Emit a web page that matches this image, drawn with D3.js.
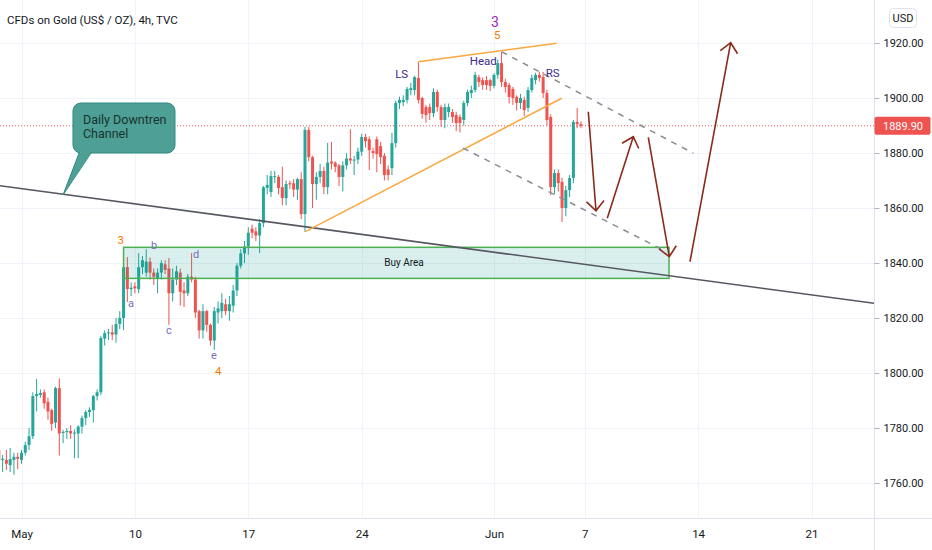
<!DOCTYPE html>
<html>
<head>
<meta charset="utf-8">
<script src="https://cdn.jsdelivr.net/npm/d3@7"></script>
<style>
  body { margin: 0; background: #fff; }
  svg { display: block; font-family: Roboto, "Open Sans", sans-serif; }
</style>
</head>
<body>
<svg id="chart" width="932" height="550"></svg>
<script>
// Gold 4h bars, Apr 30 -> Jun 4 2021 (May 31 is a short session, 5 bars)
var open = [
  1772, 1768.4, 1768.4, 1766.5, 1768.4, 1769.5,
  1768.4, 1771, 1773.8, 1777, 1791.6, 1792,
  1793, 1789.5, 1786.5, 1782, 1794.5, 1778.2,
  1778.5, 1778.9, 1778, 1778, 1780.5, 1783.6,
  1785.8, 1786.5, 1791.6, 1793, 1812.5, 1814.5,
  1814.8, 1814, 1817.8, 1820, 1838.5, 1830.5,
  1831.5, 1830.5, 1838.5, 1836.5, 1840.5, 1836.5,
  1834.5, 1836.5, 1839.5, 1838, 1829, 1834,
  1836.5, 1830, 1829, 1835, 1834, 1822.5,
  1815.5, 1822.5, 1817.5, 1811.8, 1822, 1822.5,
  1825, 1822.5, 1824.5, 1830, 1839, 1843.5,
  1846, 1852.5, 1851.5, 1850, 1854.5, 1867.3,
  1865.8, 1871.3, 1871.3, 1867.6, 1863.6, 1869,
  1869, 1866.7, 1870.5, 1857.8, 1888.4, 1878.5,
  1868.7, 1871.3, 1873.5, 1867.6, 1876.9, 1876.5,
  1875.5, 1871.3, 1875.5, 1878, 1877.3, 1877.6,
  1880.5, 1885.8, 1885, 1880.7, 1885, 1882.5,
  1879, 1874, 1874.5, 1883.6, 1898.2, 1898.5,
  1899.3, 1902.9, 1902.9, 1907.3, 1900, 1896.7,
  1896.7, 1894.5, 1902.2, 1896.7, 1892, 1894.9,
  1894.9, 1893.8, 1893.1, 1892, 1898.2, 1901.8,
  1902.9, 1907.6, 1906.5, 1906.5, 1906.5,
  1904.4, 1908.4, 1912.7, 1905.8, 1904.7, 1903.3,
  1900.4, 1898.2, 1899.3, 1896.4, 1902.9, 1906.5,
  1908.4, 1907.6, 1901.8, 1893.1, 1867.6, 1872.7,
  1869.5, 1860, 1866.5, 1870.9, 1891.3, 1890.5
];
var high = [
  1774, 1770.2, 1772, 1772.7, 1771, 1771,
  1772, 1775, 1780, 1793, 1797.8, 1794,
  1794, 1791, 1787, 1795, 1798, 1779.3,
  1780, 1781, 1779.5, 1781, 1784.5, 1786.5,
  1787.5, 1792, 1794, 1813.5, 1815.5, 1816,
  1817.5, 1820, 1822.5, 1840, 1842.2, 1833,
  1833, 1843.6, 1842.5, 1845, 1842, 1838,
  1838, 1841, 1841, 1841.8, 1838, 1839,
  1838, 1833, 1836, 1843.6, 1835, 1823,
  1825, 1823, 1818, 1824, 1826, 1829,
  1827, 1828, 1832, 1840, 1845, 1848,
  1853, 1854, 1853, 1856, 1868, 1872,
  1873.5, 1873.5, 1872, 1875, 1870, 1870,
  1870.5, 1871, 1873, 1889.5, 1889.5, 1879,
  1873, 1876, 1875, 1883.7, 1884, 1877,
  1876, 1877, 1880, 1888.7, 1879, 1882,
  1887, 1887, 1886, 1882, 1886, 1884,
  1880, 1875.5, 1887.3, 1899, 1900.5, 1901,
  1904, 1905.5, 1908, 1913.1, 1900.5, 1897.5,
  1898, 1903.5, 1903, 1897.5, 1898, 1898,
  1896, 1895, 1894, 1899, 1903, 1904.5,
  1909.5, 1908.5, 1907.5, 1908, 1907,
  1909, 1914, 1916.7, 1907, 1905.5, 1904,
  1901, 1901.5, 1900.5, 1904, 1908.5, 1909.2,
  1909.5, 1909.5, 1903, 1894, 1874, 1874,
  1871, 1868, 1872, 1892, 1896.4, 1891.5
];
var low = [
  1767, 1764, 1764.7, 1764, 1763, 1765,
  1767, 1770, 1772, 1776, 1786, 1791,
  1787, 1783, 1779, 1780, 1770, 1774.5,
  1776, 1776, 1769, 1769, 1778, 1781,
  1784, 1782, 1790, 1792, 1810, 1812,
  1812, 1811, 1816, 1815.6, 1825.8, 1828,
  1829, 1829, 1836, 1835, 1834, 1832,
  1829, 1834, 1836, 1817.5, 1826, 1832,
  1824.5, 1824, 1828, 1833, 1820, 1812.5,
  1812.5, 1815, 1810, 1808.4, 1818, 1820,
  1821, 1819, 1822, 1828, 1838, 1840,
  1843, 1849, 1848, 1843.6, 1853, 1865,
  1864, 1869, 1865, 1861, 1861, 1867,
  1864, 1863, 1856, 1851.3, 1877, 1860,
  1863, 1869, 1865, 1865, 1874, 1873,
  1868, 1866, 1874, 1876, 1872, 1876,
  1879, 1882, 1873.8, 1878, 1873, 1876,
  1870, 1870, 1872, 1882, 1896, 1897,
  1898, 1901, 1901, 1898, 1892.5, 1891,
  1892, 1893, 1895, 1889.5, 1889, 1893,
  1891, 1888, 1887.5, 1890, 1897, 1900,
  1902, 1904, 1903, 1903, 1902.5,
  1903.5, 1907, 1904, 1902, 1898, 1897.5,
  1895.5, 1896, 1893.5, 1895, 1902, 1905,
  1906, 1900, 1890, 1864.7, 1865, 1866,
  1854.9, 1857, 1864, 1869, 1889, 1889
];
var close = [
  1768.4, 1768.8, 1767, 1768.7, 1769.5, 1768.8,
  1771, 1773.8, 1777, 1791.6, 1792.4, 1792.7,
  1789, 1786, 1781.5, 1794.5, 1778, 1778.6,
  1778.9, 1778, 1778.3, 1780.5, 1783.6, 1785.8,
  1786.6, 1791.6, 1793, 1812.7, 1814.5, 1814.8,
  1814, 1817.8, 1820, 1838.5, 1830.5, 1831,
  1830.8, 1838.5, 1841, 1840.5, 1836.5, 1835,
  1836.5, 1840, 1837.5, 1829, 1834, 1837,
  1829.5, 1829, 1835, 1834, 1822, 1815.5,
  1822.5, 1817.5, 1811.8, 1822.5, 1823.5, 1825.5,
  1822.5, 1825, 1830, 1839, 1843.5, 1846,
  1851, 1851, 1850, 1854.5, 1867.5, 1868.4,
  1871.6, 1871.6, 1867.3, 1863.6, 1868.7, 1868.6,
  1866.7, 1870.5, 1857.8, 1888.4, 1878.5, 1868.7,
  1871.3, 1873.5, 1867.6, 1876.5, 1876.2, 1875,
  1871.3, 1875.5, 1878, 1877.3, 1877.6, 1880.5,
  1885.8, 1884.3, 1881, 1880, 1879.6, 1878.5,
  1872, 1872, 1883.6, 1898.2, 1899.3, 1899.3,
  1903.3, 1903.6, 1907.6, 1899.3, 1894.2, 1893.8,
  1894.5, 1902.2, 1896.7, 1892, 1896.7, 1896.7,
  1893.1, 1890.9, 1890.9, 1898.2, 1902.2, 1902.9,
  1908.4, 1905.8, 1904.7, 1904.7, 1904.4,
  1908.4, 1912.7, 1905.8, 1904, 1900.4, 1900,
  1898.2, 1900, 1895.6, 1902.9, 1907.3, 1908.4,
  1907.3, 1901.8, 1892, 1867.6, 1872.7, 1869.1,
  1860, 1866.5, 1870.9, 1891.3, 1890.5, 1889.9
];
var lastPrice = 1889.90;

var priceTicks = [1760, 1780, 1800, 1820, 1840, 1860, 1880, 1900, 1920];
var dateLabels = ["May", "10", "17", "24", "Jun", "7", "14", "21"];
var dateBars = [6, 36, 66, 96, 131, 155, 185, 215];   // bar index of each label's session

// drawings, as [bar index, price]
var trendLine = [[0.31, 1868.1], [231.53, 1825.35]];
var buyArea = [[33, 1845.7], [177.3, 1834.4]];
var wedgeTop = [[110.97, 1913.2], [147.58, 1919.9]];
var wedgeBottom = [[81.08, 1851.4], [148.91, 1899.9]];
var channelTop = [[133.0, 1916.84], [183.73, 1879.9]];
var channelBottom = [[122.8, 1881.8], [176.2, 1844.4]];
var arrows = [
  [[155.95, 1895.0], [157.98, 1859.0]],
  [[160.97, 1856.26], [167.85, 1885.93]],
  [[171.82, 1885.71], [177.38, 1842.29]],
  [[182.85, 1840.47], [193.62, 1920.11]]
];
var calloutTip = [16.98, 1864.73];
var calloutBox = [[19.62, 1898.18], [46.61, 1880.0]];
var calloutBase = [21.3, 24.5];
var calloutLines = ["Daily Downtren", "Channel"];
var buyLabel = [107.2, 1840.05];

var waveText = ["3", "a", "b", "c", "d", "e", "4", "3", "5", "LS", "Head", "RS"];
var waveBar = [32.24, 34.97, 41.05, 45.02, 52.16, 56.93, 58.06, 131.26, 131.87, 106.58, 128.17, 146.53];
var wavePrice = [1848.36, 1825.5, 1846.5, 1815.6, 1843.3, 1806.5, 1800.85, 1927.75, 1922.9, 1908.73, 1913.56, 1909.2];
var waveKind = ["minor", "sub", "sub", "sub", "sub", "sub", "minor", "major", "minor", "pattern", "pattern", "pattern"];

var kindStyle = {
  minor:   { color: "#f57c00", size: 11.5 },
  sub:     { color: "#7e6bc4", size: 11 },
  major:   { color: "#9c27b0", size: 14 },
  pattern: { color: "#3a2c8c", size: 11.5 }
};

var plotW = 874, plotH = 518;
var up = "#26a69a", down = "#ef5350";

var x = d3.scaleLinear().domain([0.312, 231.53]).range([0, plotW]);
var y = d3.scaleLinear().domain([1747.27, 1935.64]).range([plotH, 0]);

var svg = d3.select("#chart");
svg.append("defs").append("clipPath").attr("id", "plot")
  .append("rect").attr("width", plotW).attr("height", plotH);

// grid
var grid = svg.append("g").attr("stroke", "#f0f3fa").attr("stroke-width", 1);
grid.selectAll(".h").data(priceTicks).enter().append("line")
  .attr("x1", 0).attr("x2", plotW)
  .attr("y1", function(d) { return Math.round(y(d)) + 0.5; })
  .attr("y2", function(d) { return Math.round(y(d)) + 0.5; });
grid.selectAll(".v").data(dateBars).enter().append("line")
  .attr("y1", 0).attr("y2", plotH)
  .attr("x1", function(d) { return Math.round(x(d)) + 0.5; })
  .attr("x2", function(d) { return Math.round(x(d)) + 0.5; });

var plot = svg.append("g").attr("clip-path", "url(#plot)");

// last price line
plot.append("line")
  .attr("x1", 0).attr("x2", plotW)
  .attr("y1", y(lastPrice)).attr("y2", y(lastPrice))
  .attr("stroke", down).attr("stroke-width", 1).attr("stroke-dasharray", "1,2");

// candles
var bars = d3.range(open.length);
var candle = plot.append("g").selectAll("g").data(bars).enter().append("g")
  .attr("fill", function(i) { return close[i] >= open[i] ? up : down; })
  .attr("stroke", function(i) { return close[i] >= open[i] ? up : down; });
candle.append("line")
  .attr("x1", function(i) { return x(i); }).attr("x2", function(i) { return x(i); })
  .attr("y1", function(i) { return y(high[i]); }).attr("y2", function(i) { return y(low[i]); })
  .attr("stroke-width", 1);
candle.append("rect")
  .attr("stroke", "none")
  .attr("x", function(i) { return x(i) - 1.5; })
  .attr("width", 3)
  .attr("y", function(i) { return y(Math.max(open[i], close[i])); })
  .attr("height", function(i) { return Math.max(1, Math.abs(y(open[i]) - y(close[i]))); });

// buy area
plot.append("rect")
  .attr("x", x(buyArea[0][0])).attr("y", y(buyArea[0][1]))
  .attr("width", x(buyArea[1][0]) - x(buyArea[0][0]))
  .attr("height", y(buyArea[1][1]) - y(buyArea[0][1]))
  .attr("fill", "rgba(0,150,136,0.15)").attr("stroke", "#4caf50").attr("stroke-width", 1.5);
plot.append("text")
  .attr("x", x(buyLabel[0])).attr("y", y(buyLabel[1]))
  .attr("dy", "0.35em")
  .attr("text-anchor", "middle").attr("font-size", 10).attr("fill", "#131722")
  .text("Buy Area");

function seg(pts, color, width, dash) {
  plot.append("line")
    .attr("x1", x(pts[0][0])).attr("y1", y(pts[0][1]))
    .attr("x2", x(pts[1][0])).attr("y2", y(pts[1][1]))
    .attr("stroke", color).attr("stroke-width", width)
    .attr("stroke-dasharray", dash || null);
}

seg(trendLine, "#555861", 1.6);
seg(wedgeTop, "#f9a73e", 1.5);
seg(wedgeBottom, "#f9a73e", 1.5);
seg(channelTop, "#8a8c93", 1.5, "6,6");
seg(channelBottom, "#8a8c93", 1.5, "6,6");

// arrows
arrows.forEach(function(a) {
  var x1 = x(a[0][0]), y1 = y(a[0][1]), x2 = x(a[1][0]), y2 = y(a[1][1]);
  var ang = Math.atan2(y1 - y2, x1 - x2), len = 13, spread = 0.74;
  var p = d3.path();
  p.moveTo(x1, y1); p.lineTo(x2, y2);
  p.moveTo(x2 + len * Math.cos(ang + spread), y2 + len * Math.sin(ang + spread));
  p.lineTo(x2, y2);
  p.lineTo(x2 + len * Math.cos(ang - spread), y2 + len * Math.sin(ang - spread));
  plot.append("path").attr("d", p.toString())
    .attr("fill", "none").attr("stroke", "#8b2a1c").attr("stroke-width", 1.6)
    .attr("stroke-linejoin", "miter");
});

// callout
var bx0 = x(calloutBox[0][0]), by0 = y(calloutBox[0][1]);
var bx1 = x(calloutBox[1][0]), by1 = y(calloutBox[1][1]);
var tx = x(calloutTip[0]), ty = y(calloutTip[1]);
var cFill = "#4e9f95", cLine = "#2f8c81";
plot.append("rect")
  .attr("x", bx0).attr("y", by0).attr("width", bx1 - bx0).attr("height", by1 - by0)
  .attr("rx", 8).attr("fill", cFill).attr("stroke", cLine).attr("stroke-width", 1);
var b0 = x(calloutBase[0]), b1 = x(calloutBase[1]);
plot.append("path")
  .attr("d", "M" + b0 + "," + (by1 - 1) + "L" + tx + "," + ty + "L" + b1 + "," + (by1 - 1) + "Z")
  .attr("fill", cFill);
plot.append("path")
  .attr("d", "M" + b0 + "," + (by1 - 0.5) + "L" + tx + "," + ty + "L" + b1 + "," + (by1 - 0.5))
  .attr("fill", "none").attr("stroke", cLine).attr("stroke-width", 1);
plot.append("g").selectAll("text").data(calloutLines).enter().append("text")
  .attr("x", bx0 + 10).attr("y", function(d, k) { return by0 + 21 + k * 14; })
  .attr("font-size", 12.5).attr("fill", "#18332f")
  .text(function(d) { return d; });

// wave / pattern labels
plot.append("g").selectAll("text").data(waveText).enter().append("text")
  .attr("x", function(d, k) { return x(waveBar[k]); })
  .attr("y", function(d, k) { return y(wavePrice[k]); })
  .attr("dy", "0.35em")
  .attr("text-anchor", "middle")
  .attr("font-size", function(d, k) { return kindStyle[waveKind[k]].size; })
  .attr("fill", function(d, k) { return kindStyle[waveKind[k]].color; })
  .text(function(d) { return d; });

// frame lines
svg.append("line").attr("x1", 0).attr("x2", 932).attr("y1", plotH + 0.5).attr("y2", plotH + 0.5)
  .attr("stroke", "#e0e3eb");
svg.append("line").attr("x1", plotW + 0.5).attr("x2", plotW + 0.5).attr("y1", 0).attr("y2", 550)
  .attr("stroke", "#e0e3eb");

// price axis
var yAxis = svg.append("g").attr("transform", "translate(" + (plotW + 0.5) + ",0)")
  .call(d3.axisRight(y).tickValues(priceTicks).tickFormat(d3.format(".2f")).tickSize(5).tickPadding(4));
yAxis.select(".domain").remove();
yAxis.selectAll("line").attr("stroke", "#b2b5be");
yAxis.selectAll("text").attr("font-size", 11).attr("fill", "#131722").attr("font-family", "Roboto, sans-serif");

// time axis
var xAxis = svg.append("g").attr("transform", "translate(0," + plotH + ")")
  .call(d3.axisBottom(x).tickValues(dateBars).tickFormat(function(d, k) { return dateLabels[k]; })
    .tickSize(0).tickPadding(12));
xAxis.select(".domain").remove();
xAxis.selectAll("text").attr("font-size", 11.5).attr("fill", "#131722").attr("font-family", "Roboto, sans-serif");

// last price tag
svg.append("rect").attr("x", plotW + 0.5).attr("y", y(lastPrice) - 9).attr("width", 932 - plotW - 2)
  .attr("height", 18).attr("rx", 2).attr("fill", down);
svg.append("text").attr("x", plotW + 9).attr("y", y(lastPrice) + 4)
  .attr("font-size", 11).attr("fill", "#fff").text(d3.format(".2f")(lastPrice));

// currency button
svg.append("rect").attr("x", 889.5).attr("y", 8.5).attr("width", 27).attr("height", 19).attr("rx", 4)
  .attr("fill", "#fff").attr("stroke", "#e0e3eb");
svg.append("text").attr("x", 903).attr("y", 22).attr("text-anchor", "middle")
  .attr("font-size", 11).attr("fill", "#131722").text("USD");

// title
svg.append("text").attr("x", 7).attr("y", 24).attr("font-size", 11.5).attr("fill", "#131722")
  .text("CFDs on Gold (US$ / OZ), 4h, TVC");
</script>
</body>
</html>
